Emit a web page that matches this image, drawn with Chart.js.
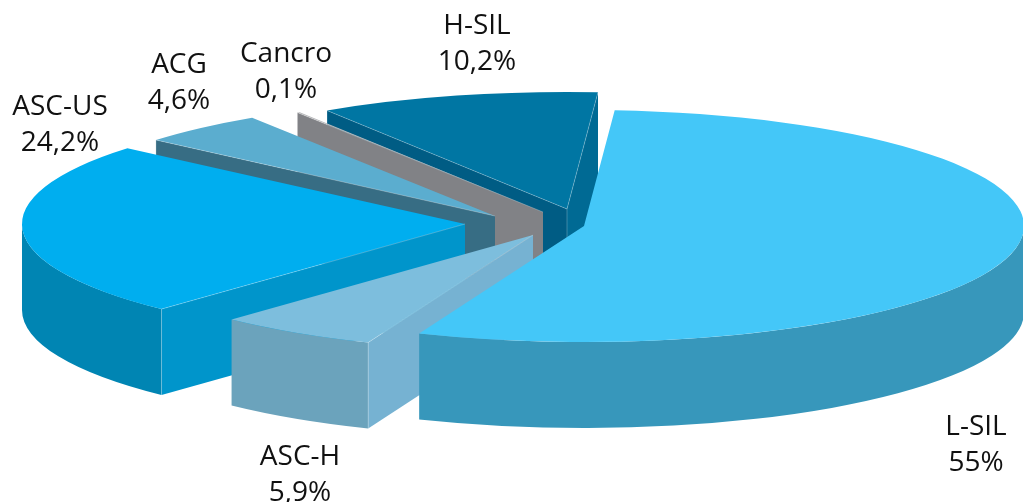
<!DOCTYPE html>
<html>
<head>
<meta charset="utf-8">
<style>
  html, body { margin: 0; padding: 0; background: #fff; }
  #pap-chart { display: block; }
</style>
<script src="https://cdn.jsdelivr.net/npm/chart.js@4"></script>
</head>
<body>
<canvas id="pap-chart" width="1023" height="502"></canvas>
<script>
const categories = ['L-SIL', 'ASC-H', 'ASC-US', 'ACG', 'Cancro', 'H-SIL'];
const shares = [55, 5.9, 24.2, 4.6, 0.1, 10.2];

const topColors = ['#44c7f8', '#7dbedd', '#00aeef', '#5badcf', '#b5b6b8', '#0076a3'];
const wallColors = ['#3797bb', '#6ba3bc', '#0085b3', '#3a6f86', '#818286', '#005c84'];
const startFaceColors = ['#3797bb', '#76b2d2', '#0095cb', '#376d84', '#818286', '#005c84'];
const endFaceColors = ['#3797bb', '#6ba3bc', '#0085b3', '#3a6f86', '#818286', '#006a94'];

// where each exploded wedge has its tip on the page
const tips = [[584, 226], [533, 235], [465, 224], [495, 216], [543, 212], [567, 209]];
// wedges further back are drawn a touch wider
const radiiX = [440, 440, 443, 445, 450, 444];
const labelSpots = [[976, 435], [300, 465], [60, 115], [179, 73], [286, 62], [477, 34]];

const RATIO = 116 / 440;
const DEPTH = 86;
const LINE_GAP = 36;

const pct = v => String(v).replace('.', ',') + '%';

function radialFace(ctx, tip, rx, angle, color) {
  const x = tip[0] + Math.cos(angle) * rx;
  const y = tip[1] + Math.sin(angle) * rx * RATIO;
  ctx.beginPath();
  ctx.moveTo(tip[0], tip[1]);
  ctx.lineTo(x, y);
  ctx.lineTo(x, y + DEPTH);
  ctx.lineTo(tip[0], tip[1] + DEPTH);
  ctx.closePath();
  ctx.fillStyle = color;
  ctx.fill();
}

function outerWall(ctx, tip, rx, start, end, color) {
  // only the part of the rim on the near side of the ellipse shows
  const a = Math.max(start, 0);
  const b = Math.min(end, Math.PI);
  if (b <= a) return;
  const ry = rx * RATIO;
  ctx.beginPath();
  ctx.ellipse(tip[0], tip[1], rx, ry, 0, a, b);
  ctx.ellipse(tip[0], tip[1] + DEPTH, rx, ry, 0, b, a, true);
  ctx.closePath();
  ctx.fillStyle = color;
  ctx.fill();
}

// thin pale line along the creases between faces
function crease(ctx, x1, y1, x2, y2) {
  ctx.beginPath();
  ctx.moveTo(x1, y1);
  ctx.lineTo(x2, y2);
  ctx.strokeStyle = 'rgba(255,255,255,0.3)';
  ctx.lineWidth = 0.8;
  ctx.stroke();
}

const extrudedPie = {
  id: 'extrudedPie',
  beforeDatasetDraw(chart) {
    const ctx = chart.ctx;
    const arcs = chart.getDatasetMeta(0).data;
    // back to front, so nearer wedges cover the ones behind
    for (let i = arcs.length - 1; i >= 0; i--) {
      const el = arcs[i];
      const tip = tips[i];
      const rx = radiiX[i];
      const ry = rx * RATIO;
      const start = el.startAngle;
      const end = el.endAngle;
      const startShows = Math.cos(start) < 0;
      const endShows = Math.cos(end) > 0;
      if (startShows) radialFace(ctx, tip, rx, start, startFaceColors[i]);
      if (endShows) radialFace(ctx, tip, rx, end, endFaceColors[i]);
      outerWall(ctx, tip, rx, start, end, wallColors[i]);

      const s = rx / el.outerRadius;
      const k = ry / el.outerRadius;
      ctx.save();
      ctx.transform(s, 0, 0, k, tip[0] - el.x * s, tip[1] - el.y * k);
      el.draw(ctx);
      ctx.restore();

      if (startShows) {
        const x = tip[0] + Math.cos(start) * rx;
        const y = tip[1] + Math.sin(start) * ry;
        crease(ctx, tip[0], tip[1], x, y);
        crease(ctx, x, y, x, y + DEPTH);
      }
      if (endShows) {
        crease(ctx, tip[0], tip[1], tip[0] + Math.cos(end) * rx, tip[1] + Math.sin(end) * ry);
        crease(ctx, tip[0], tip[1], tip[0], tip[1] + DEPTH);
      }
    }
    return false;
  },
  afterDatasetsDraw(chart) {
    const ctx = chart.ctx;
    ctx.save();
    ctx.fillStyle = '#111';
    ctx.font = '28px "Open Sans"';
    ctx.textAlign = 'center';
    ctx.textBaseline = 'alphabetic';
    categories.forEach((name, i) => {
      const [x, y] = labelSpots[i];
      ctx.fillText(name, x, y);
      ctx.fillText(pct(shares[i]), x, y + LINE_GAP);
    });
    ctx.restore();
  }
};

new Chart(document.getElementById('pap-chart'), {
  type: 'pie',
  data: {
    labels: categories,
    datasets: [{
      data: shares,
      backgroundColor: topColors,
      borderWidth: 0
    }]
  },
  options: {
    responsive: false,
    animation: false,
    rotation: 4,
    plugins: { legend: { display: false }, tooltip: { enabled: false } }
  },
  plugins: [extrudedPie]
});
</script>
</body>
</html>
